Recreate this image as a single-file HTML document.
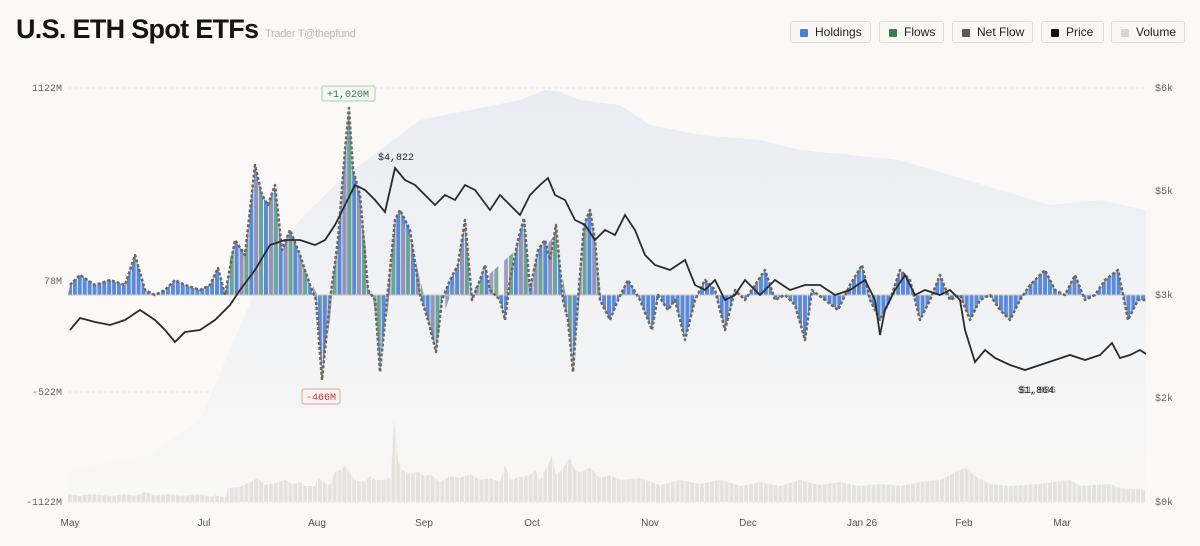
<!DOCTYPE html><html><head><meta charset="utf-8"><style>
body{margin:0;background:#faf9f7;width:1200px;height:546px;overflow:hidden;font-family:"Liberation Sans",sans-serif}
.t{position:absolute;left:16px;top:14px;font-size:27px;font-weight:bold;color:#151515;letter-spacing:-0.7px;white-space:nowrap}
.s{position:absolute;left:265px;top:28px;font-size:11px;color:#b8b8b8;white-space:nowrap;letter-spacing:-0.3px}
.lg{position:absolute;top:21px;height:22px;border:1px solid #ddd;border-radius:3px;background:#f8f7f4;font-size:12px;color:#222;line-height:20px;padding:0 0 0 24px;box-sizing:border-box;white-space:nowrap}
.lg i{position:absolute;left:9px;top:7px;width:8px;height:8px;border-radius:1px}
</style></head><body>
<div class="t">U.S. ETH Spot ETFs</div><div class="s">Trader T@thepfund</div>
<div class="lg" style="left:790px;width:81px"><i style="background:#4a7fd6"></i>Holdings</div>
<div class="lg" style="left:879px;width:65px"><i style="background:#3f7a52"></i>Flows</div>
<div class="lg" style="left:952px;width:81px"><i style="background:#5a5650"></i>Net Flow</div>
<div class="lg" style="left:1041px;width:63px"><i style="background:#111"></i>Price</div>
<div class="lg" style="left:1111px;width:74px"><i style="background:#d8d6d0"></i>Volume</div>
<svg width="1200" height="546" style="position:absolute;left:0;top:0" font-family="Liberation Mono,monospace" font-size="10">
<defs>
<pattern id="pb" x="68" y="0" width="4.9" height="546" patternUnits="userSpaceOnUse"><rect x="0" y="0" width="4" height="546" fill="#5b8ad9"/></pattern>
<pattern id="pv" x="68" y="0" width="4.9" height="546" patternUnits="userSpaceOnUse"><rect x="0" y="0" width="4" height="546" fill="#e6e3de"/></pattern>
<pattern id="pg" x="68" y="0" width="14.7" height="546" patternUnits="userSpaceOnUse"><rect x="0" y="0" width="4" height="546" fill="#6fa88c"/><rect x="9.8" y="0" width="4" height="546" fill="#9a95b5"/></pattern>
<linearGradient id="hg" x1="0" y1="0" x2="0" y2="1"><stop offset="0" stop-color="#e9ecf3"/><stop offset="0.5" stop-color="#f1f2f4"/><stop offset="1" stop-color="#f9f8f7"/></linearGradient>
</defs>
<line x1="68" x2="1146" y1="88" y2="88" stroke="#e4e2de" stroke-dasharray="3,3"/>
<line x1="68" x2="1146" y1="392" y2="392" stroke="#e4e2de" stroke-dasharray="3,3"/>
<line x1="68" x2="1146" y1="502" y2="502" stroke="#e4e2de" stroke-dasharray="3,3"/>
<path d="M68,502 L68,470 L150,455 L200,420 L230,350 L260,280 L300,220 L340,180 L380,150 L420,120 L470,110 L520,100 L545,90 L560,92 L580,100 L620,105 L650,125 L700,135 L760,140 L800,150 L850,155 L900,160 L950,175 L1000,190 L1050,205 L1100,200 L1146,210 L1146,502Z" fill="url(#hg)"/>
<path d="M68,502 L68,494 L80,496 L90,494 L110,496 L125,494 L135,496 L145,492 L155,495 L170,494 L180,496 L200,494 L212,497 L215,495 L220,497 L226,497 L228,488 L240,487 L250,482 L258,478 L265,485 L275,483 L285,480 L292,484 L300,482 L305,486 L315,486 L318,478 L325,483 L330,485 L335,472 L340,470 L345,466 L350,473 L355,480 L365,482 L370,476 L375,480 L383,480 L387,478 L391,478 L394,420 L398,460 L402,470 L410,474 L418,472 L424,476 L430,474 L440,482 L450,476 L460,478 L470,474 L480,480 L490,478 L500,482 L505,465 L510,480 L520,477 L530,475 L535,470 L540,480 L548,465 L552,455 L556,475 L562,470 L570,458 L575,470 L580,472 L590,468 L600,478 L610,475 L620,480 L640,478 L660,485 L680,480 L700,484 L720,480 L740,486 L760,482 L780,486 L800,480 L820,485 L840,482 L860,486 L880,484 L900,486 L920,482 L940,480 L965,468 L975,476 L990,484 L1010,486 L1040,484 L1070,480 L1080,486 L1110,484 L1120,488 L1146,490 L1146,502Z" fill="url(#pv)"/>
<polygon fill="url(#pb)" points="68,295 70,285 80,275 95,285 110,280 125,285 135,255 145,290 155,295 165,290 175,280 185,285 200,290 210,285 218,268 225,295 235,240 245,255 255,165 262,195 268,205 275,185 282,250 290,230 300,255 310,285 316,300 322,380 330,300 338,240 345,150 349,108 353,170 360,195 368,290 375,300 380,372 388,290 395,220 400,210 410,230 420,295 428,320 436,352 442,300 450,280 458,265 465,220 472,300 480,280 485,265 490,290 500,300 505,320 510,280 518,240 524,218 530,290 538,250 545,240 550,260 556,225 563,300 568,320 573,372 578,300 584,225 590,210 595,240 600,300 610,320 618,300 628,280 640,300 652,330 658,295 668,310 675,300 685,340 695,300 705,280 715,290 725,330 735,290 745,300 755,285 765,270 775,300 785,295 795,305 805,340 812,290 825,300 838,310 850,285 862,265 870,300 880,320 890,300 900,270 910,280 920,320 930,300 940,275 950,300 960,295 970,320 980,300 990,295 1000,310 1010,320 1020,300 1030,285 1045,270 1055,290 1065,295 1075,275 1085,300 1095,295 1105,280 1118,270 1128,320 1138,300 1146,300 1146,295"/>
<polygon fill="url(#pg)" opacity="0.9" points="230,258 235,245 245,258 255,172 262,200 268,210 275,192 282,255 290,236 300,260 320,300 324,360 330,320 345,160 349,115 353,178 360,205 380,350 388,310 395,228 400,218 410,238 430,320 436,345 442,320 458,272 465,228 472,290 518,248 524,226 530,280 545,248 556,233 568,310 573,360 578,320 584,233 590,218 595,248 600,290 600,295 230,295"/>
<line x1="68" x2="1146" y1="295" y2="295" stroke="#c9c6c0"/>
<polyline fill="none" stroke="#6e685f" stroke-width="2.5" stroke-dasharray="3,2" stroke-linejoin="round" points="70,285 80,275 95,285 110,280 125,285 135,255 145,290 155,295 165,290 175,280 185,285 200,290 210,285 218,268 225,295 235,240 245,255 255,165 262,195 268,205 275,185 282,250 290,230 300,255 310,285 316,300 322,380 330,300 338,240 345,150 349,108 353,170 360,195 368,290 375,300 380,372 388,290 395,220 400,210 410,230 420,295 428,320 436,352 442,300 450,280 458,265 465,220 472,300 480,280 485,265 490,290 500,300 505,320 510,280 518,240 524,218 530,290 538,250 545,240 550,260 556,225 563,300 568,320 573,372 578,300 584,225 590,210 595,240 600,300 610,320 618,300 628,280 640,300 652,330 658,295 668,310 675,300 685,340 695,300 705,280 715,290 725,330 735,290 745,300 755,285 765,270 775,300 785,295 795,305 805,340 812,290 825,300 838,310 850,285 862,265 870,300 880,320 890,300 900,270 910,280 920,320 930,300 940,275 950,300 960,295 970,320 980,300 990,295 1000,310 1010,320 1020,300 1030,285 1045,270 1055,290 1065,295 1075,275 1085,300 1095,295 1105,280 1118,270 1128,320 1138,300 1146,300"/>
<polyline fill="none" stroke="#2b2b2b" stroke-width="1.8" points="70,330 80,318 95,322 110,325 125,320 140,310 155,320 165,330 175,342 185,332 200,330 215,320 230,305 240,290 255,270 270,245 285,240 300,240 315,245 325,240 335,225 345,205 355,185 365,190 375,200 385,212 395,168 405,180 415,185 425,195 435,205 445,195 455,200 465,185 475,190 490,210 500,195 510,205 520,215 530,195 540,185 548,178 555,195 565,200 575,220 585,225 595,240 605,230 615,235 625,215 635,230 645,255 655,265 670,270 685,260 695,285 705,290 715,280 725,300 735,295 745,280 760,295 775,280 790,290 805,285 820,285 835,295 850,290 865,280 875,300 880,335 885,310 895,290 905,275 915,295 925,290 940,295 950,290 960,300 965,330 975,362 985,350 995,358 1010,365 1025,370 1040,365 1055,360 1070,355 1085,360 1100,355 1112,343 1120,358 1130,355 1140,350 1146,354"/>
<rect x="322" y="86" width="53" height="15" rx="2" fill="#f3f8f3" stroke="#a9cdb0"/><text x="348" y="97" text-anchor="middle" fill="#3f7a52">+1,020M</text>
<rect x="302" y="389" width="38" height="15" rx="2" fill="#fbf1f0" stroke="#e0a8a3"/><text x="321" y="400" text-anchor="middle" fill="#c0463c">-466M</text>
<text x="378" y="160" fill="#222">$4,822</text><text x="1020" y="393" fill="#222" opacity=".6">$1,886</text><text x="1018" y="393" fill="#222">$1,864</text>
<g fill="#666" text-anchor="end"><text x="62" y="91">1122M</text><text x="62" y="284">78M</text><text x="62" y="395">-522M</text><text x="62" y="505">-1122M</text></g>
<g fill="#666"><text x="1155" y="91">$6k</text><text x="1155" y="194">$5k</text><text x="1155" y="298">$3k</text><text x="1155" y="401">$2k</text><text x="1155" y="505">$0k</text></g>
<g fill="#555" text-anchor="middle" font-family="Liberation Sans,sans-serif"><text x="70" y="526">May</text><text x="204" y="526">Jul</text><text x="317" y="526">Aug</text><text x="424" y="526">Sep</text><text x="532" y="526">Oct</text><text x="650" y="526">Nov</text><text x="748" y="526">Dec</text><text x="862" y="526">Jan 26</text><text x="964" y="526">Feb</text><text x="1062" y="526">Mar</text></g>
</svg>
</body></html>
